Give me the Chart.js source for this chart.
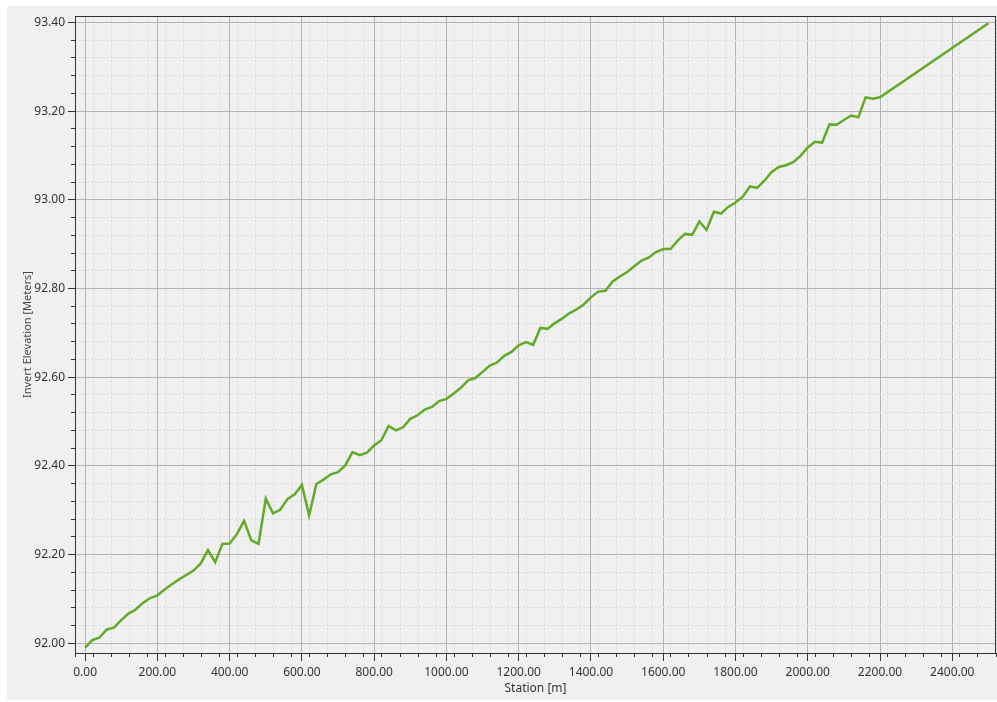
<!DOCTYPE html>
<html>
<head>
<meta charset="utf-8">
<title>Invert Elevation Profile</title>
<script src="https://cdn.jsdelivr.net/npm/chart.js@4"></script>
<style>
    html, body { margin: 0; padding: 0; background: #ffffff; }
    #panel {
        position: absolute;
        left: 7px;
        top: 6px;
        width: 990px;
        height: 694px;
        background: #f0f0f0;
    }
</style>
</head>
<body>
<div id="panel"><canvas id="profileChart" width="990" height="694"></canvas></div>
<script>
// Station (m) and invert elevation (m)
const stations = [
    0, 20, 40, 60, 80, 100, 120, 140, 160, 180,
    200, 220, 240, 260, 280, 300, 320, 340, 360, 380,
    400, 420, 440, 460, 480, 500, 520, 540, 560, 580,
    600, 620, 640, 660, 680, 700, 720, 740, 760, 780,
    800, 820, 840, 860, 880, 900, 920, 940, 960, 980,
    1000, 1020, 1040, 1060, 1080, 1100, 1120, 1140, 1160, 1180,
    1200, 1220, 1240, 1260, 1280, 1300, 1320, 1340, 1360, 1380,
    1400, 1420, 1440, 1460, 1480, 1500, 1520, 1540, 1560, 1580,
    1600, 1620, 1640, 1660, 1680, 1700, 1720, 1740, 1760, 1780,
    1800, 1820, 1840, 1860, 1880, 1900, 1920, 1940, 1960, 1980,
    2000, 2020, 2040, 2060, 2080, 2100, 2120, 2140, 2160, 2180,
    2200, 2500
];
const elevations = [
    91.990, 92.007, 92.013, 92.031, 92.035, 92.052, 92.067, 92.076, 92.091, 92.102,
    92.108, 92.121, 92.133, 92.144, 92.154, 92.164, 92.180, 92.210, 92.183, 92.224,
    92.225, 92.246, 92.276, 92.232, 92.224, 92.326, 92.293, 92.301, 92.325, 92.336,
    92.357, 92.288, 92.359, 92.369, 92.381, 92.386, 92.401, 92.431, 92.424, 92.430,
    92.446, 92.458, 92.490, 92.480, 92.487, 92.506, 92.514, 92.527, 92.533, 92.546,
    92.551, 92.563, 92.576, 92.593, 92.598, 92.612, 92.626, 92.633, 92.648, 92.657,
    92.672, 92.679, 92.673, 92.711, 92.709, 92.722, 92.732, 92.744, 92.753, 92.764,
    92.780, 92.793, 92.795, 92.816, 92.827, 92.837, 92.850, 92.863, 92.870, 92.882,
    92.889, 92.889, 92.908, 92.923, 92.921, 92.951, 92.932, 92.973, 92.969, 92.984,
    92.994, 93.007, 93.030, 93.027, 93.043, 93.063, 93.074, 93.078, 93.085, 93.099,
    93.118, 93.131, 93.129, 93.170, 93.169, 93.180, 93.190, 93.186, 93.231, 93.228,
    93.231, 93.398
];

const xRange = { min: -28, max: 2521 };
const yRange = { min: 91.978, max: 93.414 };

const axisColor = '#333333';
const majorGrid = '#b3b3b3';
const minorGrid = '#d9d9d9';
const tickFont = { family: 'Noto Sans', size: 12 };

function isMultiple(v, step) {
    return Math.abs(Math.round(v / step) * step - v) < 1e-6;
}

// frame round the plot area (top and right edges too)
const framePlugin = {
    id: 'frame',
    afterDraw(chart) {
        const { ctx, chartArea } = chart;
        ctx.save();
        ctx.strokeStyle = axisColor;
        ctx.lineWidth = 1;
        ctx.strokeRect(Math.round(chartArea.left) + 0.5, Math.round(chartArea.top) + 0.5,
            Math.round(chartArea.right - chartArea.left) - 1, Math.round(chartArea.bottom - chartArea.top));
        ctx.restore();
    }
};

const ctx = document.getElementById('profileChart').getContext('2d');

new Chart(ctx, {
    type: 'line',
    data: {
        datasets: [{
            label: 'Invert Elevation',
            data: stations.map((s, i) => ({ x: s, y: elevations[i] })),
            borderColor: '#63a92a',
            borderWidth: 2.5,
            pointRadius: 0,
            tension: 0,
            fill: false
        }]
    },
    options: {
        responsive: false,
        animation: false,
        devicePixelRatio: 1,
        layout: { padding: { top: 7, right: 1, left: 0, bottom: 0 } },
        plugins: {
            legend: { display: false },
            tooltip: { enabled: false }
        },
        scales: {
            x: {
                type: 'linear',
                position: 'bottom',
                weight: 1,
                min: xRange.min,
                max: xRange.max,
                ticks: {
                    stepSize: 200,
                    includeBounds: false,
                    maxRotation: 0,
                    padding: 4,
                    color: '#333',
                    font: tickFont,
                    callback: v => v.toFixed(2)
                },
                grid: { color: majorGrid, tickLength: 8, tickColor: axisColor },
                border: { color: axisColor },
                title: {
                    display: true,
                    text: 'Station [m]',
                    color: '#333',
                    font: { family: 'Noto Sans', size: 12 },
                    padding: { top: 0, bottom: 4 }
                },
                afterFit: scale => { scale.height = 47; }
            },
            xMinor: {
                type: 'linear',
                position: 'bottom',
                weight: 0,
                min: xRange.min,
                max: xRange.max,
                ticks: { stepSize: 50, includeBounds: false, display: false },
                grid: {
                    color: c => isMultiple(c.tick.value, 200) ? 'rgba(0,0,0,0)' : minorGrid,
                    tickLength: 4,
                    tickColor: axisColor,
                    tickBorderDash: []
                },
                border: { display: false, dash: [2, 2] },
                afterFit: scale => { scale.height = 0; }
            },
            y: {
                type: 'linear',
                position: 'left',
                weight: 1,
                min: yRange.min,
                max: yRange.max,
                ticks: {
                    stepSize: 0.2,
                    includeBounds: false,
                    padding: 3,
                    color: '#333',
                    font: tickFont,
                    callback: v => v.toFixed(2)
                },
                grid: { color: majorGrid, tickLength: 7, tickColor: axisColor },
                border: { color: axisColor },
                title: {
                    display: true,
                    text: 'Invert Elevation [Meters]',
                    color: '#444',
                    font: { family: 'Noto Sans', size: 11 },
                    padding: { top: 14, bottom: 0 }
                },
                afterFit: scale => { scale.width = 68; }
            },
            yMinor: {
                type: 'linear',
                position: 'left',
                weight: 0,
                min: yRange.min,
                max: yRange.max,
                ticks: { stepSize: 0.04, includeBounds: false, display: false },
                grid: {
                    color: c => isMultiple(c.tick.value, 0.2) ? 'rgba(0,0,0,0)' : minorGrid,
                    tickLength: 4,
                    tickColor: axisColor,
                    tickBorderDash: []
                },
                border: { display: false, dash: [2, 2] },
                afterFit: scale => { scale.width = 0; }
            }
        }
    },
    plugins: [framePlugin]
});
</script>
</body>
</html>
